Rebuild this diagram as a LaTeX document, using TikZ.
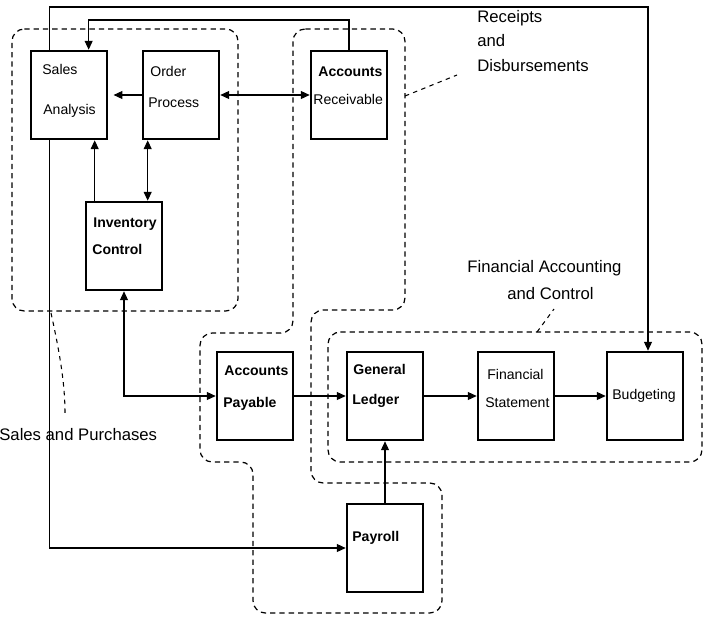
\documentclass[tikz,border=0pt]{standalone}
\usepackage{fontspec}
\setmainfont{Liberation Sans}
\usetikzlibrary{arrows.meta,calc}
\begin{document}
\begin{tikzpicture}[x=0.02cm,y=-0.02cm,
 box/.style={draw, line width=1.5pt, minimum width=1.52cm, minimum height=1.76cm, inner sep=0},
 bt/.style={anchor=base west, inner sep=0, font=\fontsize{8}{9}\selectfont},
 btb/.style={bt, font=\fontsize{8}{9}\selectfont\bfseries},
 lab/.style={anchor=base west, inner sep=0, font=\fontsize{9.5}{11}\selectfont},
 arr/.style={line width=0.6pt, -{Triangle[length=5pt,width=4.5pt]}},
 darr/.style={line width=0.6pt, {Triangle[length=5pt,width=4.5pt]}-{Triangle[length=5pt,width=4.5pt]}},
 region/.style={draw, dash pattern=on 3pt off 2.3pt, line width=0.7pt, rounded corners=7pt},
 leader/.style={draw, dash pattern=on 2.5pt off 2.5pt, line width=0.6pt}]
\useasboundingbox (0,0) rectangle (706,619);

% dashed regions
\draw[region] (12,29) -- (238,29) -- (238,311) -- (12,311) -- cycle;
\draw[region] (293,29) -- (405,29) -- (405,310) -- (311,310) -- (311,483) -- (442,483) -- (442,613)
  -- (253,613) -- (253,462) -- (200,462) -- (200,333) -- (293,333) -- cycle;
\draw[region] (328,332) -- (702,332) -- (702,462) -- (328,462) -- cycle;

% boxes
\node[box] (sa) at (69,95) {};
\node[box] (op) at (181,95) {};
\node[box] (ar) at (349,95) {};
\node[box] (ic) at (124,246) {};
\node[box] (ap) at (255,396) {};
\node[box] (gl) at (385,396) {};
\node[box] (fs) at (516,396) {};
\node[box] (bu) at (645,396) {};
\node[box] (pr) at (385,548) {};

% box texts
\node[bt]  (t1)  at (42,74)   {Sales};
\node[bt]  (t2)  at (43,114)  {Analysis};
\node[bt]  (t3)  at (150,76)  {Order};
\node[bt]  (t4)  at (148,107) {Process};
\node[btb] (t5)  at (318,76)  {Accounts};
\node[bt]  (t6)  at (313,104) {Receivable};
\node[btb] (t7)  at (93,227)  {Inventory};
\node[btb] (t8)  at (92,254)  {Control};
\node[btb] (t9)  at (224,375) {Accounts};
\node[btb] (t10) at (223,407) {Payable};
\node[btb] (t11) at (353,374) {General};
\node[btb] (t12) at (352,404) {Ledger};
\node[bt]  (t13) at (487,379) {Financial};
\node[bt]  (t14) at (485,407) {Statement};
\node[bt]  (t15) at (612,399) {Budgeting};
\node[btb] (t16) at (352,541) {Payroll};

% outside labels
\node[lab] (l1) at (477,22) {Receipts};
\node[lab] (l2) at (477,46) {and};
\node[lab] (l3) at (477,71) {Disbursements};
\node[lab] (l4) at (467,272) {Financial Accounting};
\node[lab] (l5) at (507,299) {and Control};
\node[lab] (l6) at (-1,440) {Sales and Purchases};

% leaders
\coordinate (r1) at (405,96);
\coordinate (r2) at (457,75);
\draw[leader] (r1) -- (r2);
\coordinate (f1) at (537,332);
\coordinate (f2) at (554,309);
\draw[leader] (f1) -- (f2);
\coordinate (s1) at (51,313);
\coordinate (s2) at (65,413);
\draw[leader] (s1) .. controls (58,345) and (65,380) .. (s2);

% connectors
\coordinate (top1) at (0,7);
\coordinate (top2) at (0,20);
\coordinate (saA) at ($(sa.north west)!0.25!(sa.north east)$);
\coordinate (saB) at ($(sa.north west)!0.75!(sa.north east)$);
\coordinate (saC) at ($(sa.south west)!0.25!(sa.south east)$);
\coordinate (buN) at ($(bu.north)+(3,0)$);
\coordinate (icA) at ($(ic.north west)+(10,0)$);
\coordinate (opA) at ($(op.south west)+(6,0)$);

\draw[arr] (saA) |- (top1 -| buN) -- (buN);
\draw[arr] (ar.north) |- (top2 -| saB) -- (saB);
\draw[arr, shorten >=3pt] (op.west) -- (sa.east);
\draw[darr] (op.east) -- (ar.west);
\draw[arr] (icA) -- (icA |- sa.south);
\draw[darr] (opA) -- (opA |- ic.north);
\draw[darr] (ic.south) |- (ap.west);
\draw[arr] (ap.east) -- (gl.west);
\draw[arr] (gl.east) -- (fs.west);
\draw[arr] (fs.east) -- (bu.west);
\draw[arr] (pr.north) -- (gl.south);
\draw[arr] (saC) |- (pr.west);
\end{tikzpicture}
\end{document}
